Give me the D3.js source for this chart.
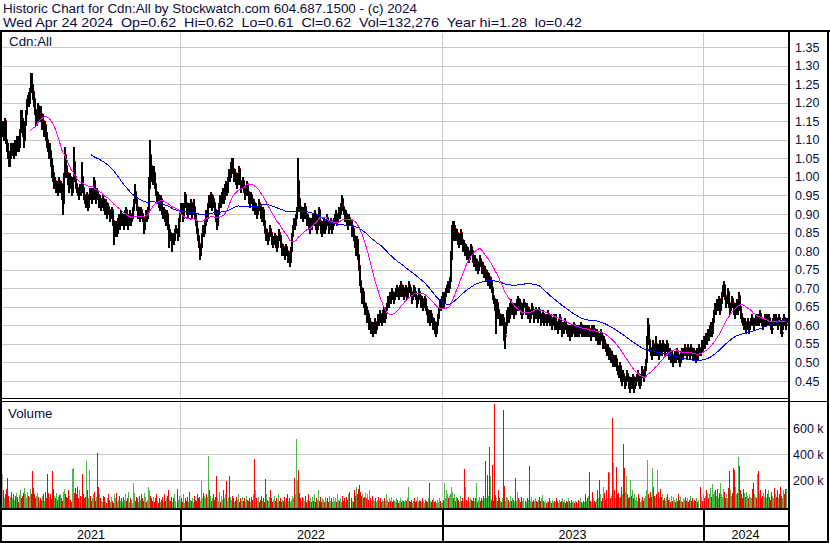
<!DOCTYPE html>
<html><head><meta charset="utf-8">
<script src="https://cdn.jsdelivr.net/npm/d3@7"></script>
<style>html,body{margin:0;padding:0;background:#fff;}svg{display:block;font-family:"Liberation Sans",Arial,sans-serif;}</style>
</head><body><svg id="c" width="830" height="543"></svg>
<script>
const title1 = "Historic Chart for Cdn:All by Stockwatch.com 604.687.1500 - (c) 2024";
const title2Parts = ["Wed Apr 24 2024", "Op=0.62", "Hi=0.62", "Lo=0.61", "Cl=0.62", "Vol=132,276", "Year hi=1.28", "lo=0.42"];
const symbolLabel = "Cdn:All";
const volumeLabel = "Volume";
const firstDay = "2021-04-28", lastDay = "2024-04-24";
const yearLabels = ["2021","2022","2023","2024"];
const priceTicks = [1.35,1.30,1.25,1.20,1.15,1.10,1.05,1.00,0.95,0.90,0.85,0.80,0.75,0.70,0.65,0.60,0.55,0.50,0.45];
const volumeTicks = [200,400,600];
const fastPeriod = 30, slowPeriod = 90;

// daily closes, cents
const closes = [
113,111,115,110,108,106,104,105,108,107,
108,106,109,107,110,109,108,112,116,115,
112,110,114,117,119,121,120,123,126,124,
123,121,118,115,117,119,116,118,117,114,
115,112,114,111,110,108,106,107,104,103,
101,98,99,97,98,96,99,97,98,96,
93,100,106,103,101,99,97,100,98,96,
99,104,100,98,97,96,95,97,96,100,
97,95,94,93,95,92,94,96,95,94,
96,99,95,94,96,95,93,94,92,93,
94,92,91,93,90,92,91,89,90,91,
88,84,86,87,85,88,89,87,90,88,
89,87,90,91,88,87,89,90,88,89,
91,93,96,94,92,90,91,89,91,90,
89,86,88,90,89,91,97,106,103,100,
99,101,98,96,94,95,93,92,94,91,
90,91,89,88,90,87,83,85,84,82,
84,83,85,86,84,88,90,92,91,89,
92,95,93,91,90,92,91,93,90,91,
92,90,88,86,84,82,79,81,84,86,
85,87,90,89,92,94,93,95,92,94,
93,91,89,87,90,92,94,93,95,96,
94,97,98,96,99,101,100,103,104,102,
100,101,99,98,100,102,99,97,98,99,
97,95,96,98,96,94,93,95,94,92,
93,91,92,90,91,93,92,90,89,91,
88,86,84,85,83,84,86,85,83,82,
83,84,82,81,83,85,84,82,80,81,
80,79,81,80,78,79,77,80,84,86,
88,87,89,91,99,94,92,90,91,89,
91,92,90,88,89,87,86,88,87,89,
88,90,87,86,89,91,88,86,85,87,
88,86,87,89,88,86,87,88,86,87,
88,89,90,88,89,91,90,92,94,92,
91,89,90,88,87,89,88,85,86,84,
82,80,83,79,76,72,70,67,69,66,
64,65,62,63,60,61,59,60,58,60,
61,59,60,62,61,63,62,61,63,64,
62,64,65,67,66,68,67,69,68,67,
68,69,70,69,68,70,71,69,70,68,
69,70,68,69,71,70,69,67,68,70,
69,68,66,67,69,68,66,67,65,66,
67,65,64,62,63,61,63,62,60,61,
59,58,60,62,64,66,65,67,68,66,
68,69,70,71,70,72,78,84,86,85,
86,84,85,83,82,84,85,83,81,82,
80,81,79,80,78,79,81,80,78,77,
78,76,77,75,76,78,77,75,76,74,
75,73,74,72,73,71,72,70,68,67,
65,62,66,64,63,61,62,61,62,58,
57,60,63,64,62,65,66,64,65,63,
65,64,66,67,65,66,64,63,65,66,
64,65,63,64,62,63,65,64,62,63,
64,63,62,64,63,61,62,63,61,62,
62,61,63,62,61,62,60,61,62,60,
61,60,59,61,62,60,58,60,59,61,
60,59,58,59,57,59,58,59,60,58,
59,58,59,58,59,60,58,59,58,59,
58,59,58,59,58,57,59,58,59,58,
57,58,56,57,56,58,57,55,56,55,
54,53,54,52,53,51,52,50,51,50,
51,49,48,47,49,46,45,47,46,44,
45,47,46,44,43,45,44,46,43,44,
45,46,47,45,44,46,48,47,46,48,
50,55,60,56,54,53,52,55,54,53,
55,53,54,52,55,54,53,55,54,53,
54,55,53,52,53,51,52,50,51,52,
51,53,52,51,50,52,53,52,53,54,
53,52,54,53,52,54,53,52,53,52,
51,53,52,54,53,55,54,56,55,57,
56,58,57,59,60,58,61,63,65,64,
66,65,67,64,66,68,70,71,68,66,
67,69,66,64,65,67,66,64,63,65,
66,64,68,65,63,62,61,60,61,59,
60,61,59,60,61,62,61,60,61,62,
61,62,61,63,62,61,60,61,62,61,
62,61,62,61,60,59,61,62,61,62,
61,60,62,61,59,58,61,62,61,60,
62];

// daily high minus close, cents
const upWicks = [
2,3,1,5,2,3,2,2,1,2, 1,2,1,3,1,2,2,1,2,3, 4,2,1,1,2,1,3,1,2,4, 2,2,3,3,1,1,3,1,2,3,
2,3,1,3,2,2,2,2,3,2, 2,3,1,2,1,2,1,2,1,2, 3,1,2,3,2,2,2,1,2,2, 1,4,4,2,1,1,2,1,1,4,
3,2,1,1,1,3,1,1,2,1, 1,1,4,1,1,1,2,1,2,1, 1,2,1,1,3,1,1,2,1,1, 3,4,1,1,2,1,1,2,1,2,
1,2,1,1,3,1,1,1,2,1, 1,1,2,2,2,2,1,2,1,1, 1,3,1,1,1,1,3,4,3,3, 2,2,3,2,2,1,2,1,1,3,
1,1,2,1,1,3,4,1,1,2, 1,1,1,1,2,1,1,1,2,2, 1,1,2,2,1,1,2,1,3,1, 2,2,2,2,2,2,3,1,1,1,
1,1,1,2,1,1,2,1,3,1, 1,2,2,2,1,1,1,2,1,1, 2,1,1,2,1,1,2,1,1,3, 2,1,2,1,1,1,3,2,1,1,
2,2,1,1,2,2,1,1,1,2, 1,2,1,2,1,1,1,2,1,1, 3,2,2,1,2,1,1,1,2,1, 1,1,2,1,1,1,1,2,2,1,
1,1,1,1,2,1,2,1,1,1, 1,1,1,1,6,5,2,2,1,2, 1,1,2,2,1,2,1,1,1,1, 1,1,3,1,1,1,3,2,1,1,
1,2,1,1,1,2,1,1,2,1, 1,1,1,2,1,1,1,1,1,2, 1,2,1,2,1,1,1,3,1,2, 2,2,1,4,3,4,2,3,1,3,
2,1,3,1,3,1,2,1,2,1, 1,2,1,1,1,1,1,2,1,1, 2,1,1,1,1,1,1,1,1,1, 1,1,1,1,1,1,1,2,1,2,
1,1,2,1,1,1,1,2,1,1, 1,1,2,1,1,1,2,1,2,1, 1,2,1,2,1,2,1,1,2,1, 2,1,1,1,1,1,1,1,1,2,
1,1,1,1,1,1,2,3,2,3, 1,2,1,2,1,1,1,2,2,1, 2,1,2,1,2,1,1,1,2,1, 1,2,1,2,1,1,1,2,1,2,
1,2,1,2,1,2,1,2,2,1, 2,3,1,2,1,2,1,1,1,4, 3,1,1,1,2,1,1,2,1,2, 1,1,1,1,2,1,2,1,1,1,
2,1,2,1,2,1,1,1,2,1, 1,1,1,1,1,2,1,1,2,1, 1,1,1,1,1,1,2,1,1,2, 2,1,1,1,1,2,2,1,1,1,
1,1,1,1,2,1,1,1,1,2, 1,1,1,1,1,1,2,1,1,1, 1,1,1,1,1,1,1,1,1,1, 1,1,2,1,1,1,1,2,1,1,
1,1,1,2,1,2,1,2,1,1, 1,2,1,1,1,3,1,1,1,2, 1,1,1,2,1,1,1,1,3,1, 1,1,1,2,1,1,1,1,1,1,
1,2,2,4,2,1,2,1,1,1, 2,2,1,2,1,1,2,1,1,1, 1,1,2,1,1,2,1,2,1,1, 1,1,1,1,1,1,1,1,1,1,
1,1,1,1,1,1,1,1,1,1, 1,1,1,1,1,1,1,1,1,1, 1,1,1,1,1,2,1,1,1,2, 1,2,1,3,1,1,1,1,3,2,
1,1,3,2,1,1,1,2,1,1, 1,2,1,3,2,1,1,1,1,2, 1,1,2,1,1,1,1,1,1,1, 1,1,1,1,1,1,1,1,1,1,
1,1,1,1,1,2,1,1,1,1, 1,1,1,1,2,1,1,1,1,2, 0];

// daily close minus low, cents
const downWicks = [
2,1,4,1,1,1,1,2,3,1, 2,1,3,1,3,1,1,4,4,2, 1,2,4,3,2,2,1,3,3,1, 2,2,1,1,3,2,1,2,2,1,
2,1,3,1,2,1,1,2,1,3, 2,1,2,1,2,1,3,1,2,2, 3,7,6,1,1,1,1,3,1,1, 3,5,1,1,1,1,1,2,1,4,
1,1,1,1,2,1,2,2,1,1, 2,3,1,1,2,1,1,1,1,1, 1,1,1,2,1,2,1,1,1,1, 1,2,2,1,1,3,1,1,3,1,
1,1,3,1,1,1,2,1,1,1, 2,2,3,1,1,1,1,1,2,1, 1,1,2,2,1,2,6,9,1,1, 1,2,1,1,1,1,1,1,2,1,
1,1,1,1,2,1,2,2,1,2, 2,1,2,1,1,4,2,2,1,1, 3,3,1,1,1,2,1,2,1,1, 1,1,1,1,1,1,1,2,3,2,
1,2,3,1,3,2,1,2,1,2, 1,1,1,1,3,2,2,1,2,1, 1,3,1,1,3,2,1,3,1,1, 1,1,1,1,2,2,1,1,1,1,
1,1,1,2,1,1,1,2,1,1, 1,1,1,1,1,2,1,1,1,2, 1,1,1,1,1,1,2,1,1,1, 1,1,1,1,2,2,1,1,1,1,
1,1,2,1,1,1,1,3,4,2, 2,1,2,2,8,1,1,1,1,1, 2,1,1,1,1,1,1,2,1,2, 1,2,1,1,3,2,1,1,1,2,
1,1,1,2,1,1,1,1,1,1, 1,1,1,1,1,2,1,2,2,1, 1,1,1,1,1,2,1,1,1,1, 1,1,3,1,1,1,1,1,2,1,
1,2,1,1,1,2,1,1,1,2, 2,1,1,2,1,2,1,1,2,1, 1,2,1,2,1,2,1,2,1,1, 1,1,1,1,1,2,1,1,1,1,
1,1,1,1,2,1,1,1,1,2, 1,1,1,1,2,1,1,1,1,1, 1,1,1,1,1,1,2,1,1,1, 1,1,2,2,2,2,1,2,1,1,
2,1,1,1,1,2,6,6,2,2, 2,1,1,1,1,2,1,1,1,1, 1,1,1,1,1,1,2,1,1,1, 1,1,1,1,1,2,1,1,1,1,
1,1,1,1,1,1,1,1,1,1, 1,4,4,1,1,1,1,1,2,2, 3,2,3,1,1,3,1,1,1,1, 2,1,2,1,1,1,1,1,2,1,
1,1,1,1,1,1,2,1,1,1, 1,1,1,2,1,1,1,1,1,1, 1,1,2,1,1,1,1,1,1,1, 1,1,1,2,1,1,1,2,1,2,
1,1,1,1,1,2,1,1,1,1, 1,1,1,1,1,1,1,1,1,1, 1,1,1,1,1,1,2,1,1,1, 1,1,1,1,1,2,1,1,1,1,
1,1,1,1,1,1,1,1,1,1, 1,1,1,1,2,1,1,2,1,1, 1,2,1,1,1,2,1,2,1,1, 1,1,1,1,1,2,2,1,1,2,
2,5,5,1,1,1,1,3,2,1, 2,1,1,1,3,1,1,2,1,1, 1,1,1,1,1,1,1,1,1,1, 1,2,1,1,1,2,1,1,1,1,
1,1,2,1,1,2,1,1,1,1, 1,2,1,2,1,2,1,2,1,2, 1,2,1,2,1,1,3,2,2,1, 2,1,2,1,2,2,2,1,1,1,
1,2,1,1,1,2,1,1,1,2, 1,1,4,1,1,1,1,1,1,1, 1,1,1,1,1,1,1,1,1,1, 1,1,1,1,1,1,1,1,1,1,
1,1,1,1,1,1,1,1,1,1, 1,1,1,1,1,1,2,1,1,1, 1];

// daily volume, thousands of shares
const volumes = [
250,120,60,90,130,220,80,40,70,110, 60,90,45,80,100,70,30,85,120,60,
75,100,140,90,60,110,80,70,130,95, 270,140,90,60,80,100,70,40,60,50,
75,90,40,110,60,250,100,70,90,55, 270,130,80,60,100,45,70,85,90,60,
40,110,130,90,70,60,120,80,50,30, 285,290,100,140,90,150,60,120,80,70,
250,90,60,70,345,120,60,280,80,40, 60,90,110,40,70,410,150,90,60,40,
30,80,70,40,20,60,90,50,30,70, 40,20,90,60,100,30,50,80,40,60,
30,70,50,90,40,60,110,30,60,50, 20,180,100,40,70,60,30,80,50,90,
60,40,100,70,30,50,150,120,80,60, 40,70,30,60,90,40,20,60,30,50,
70,30,90,40,60,80,120,50,40,70, 30,60,90,40,130,50,80,40,60,30,
90,20,60,40,70,30,110,50,40,60, 30,80,50,40,90,60,70,40,190,60,
100,80,60,90,70,385,120,80,40,60, 90,50,70,230,60,40,110,30,80,50,
120,60,90,190,40,60,230,70,50,80, 60,30,40,70,50,90,30,60,40,70,
40,60,30,80,50,40,60,30,70,50, 90,360,120,60,40,70,30,50,80,40,
60,30,205,90,50,40,70,120,60,30, 50,80,40,60,30,90,40,60,30,50,
40,70,30,60,90,40,60,30,50,80, 60,215,90,520,200,280,100,60,40,70,
60,40,80,30,50,90,40,60,30,70, 40,90,30,60,50,120,40,70,30,60,
50,30,70,40,60,30,80,40,60,30, 70,40,60,30,90,50,40,60,30,80,
40,60,30,70,50,90,110,60,40,30, 120,80,150,90,130,160,110,80,90,60,
70,100,60,90,50,120,60,40,80,50, 40,60,30,50,70,40,60,30,50,40,
60,40,90,50,30,60,40,70,30,50, 40,30,60,50,20,40,60,30,50,40,
30,50,40,60,145,40,30,50,20,40, 60,30,40,70,30,50,40,30,60,40,
20,50,40,30,60,180,40,30,50,60, 30,40,20,50,30,60,40,20,30,50,
180,60,120,90,60,80,90,150,110,60, 90,40,70,60,50,30,80,40,60,40,
285,150,50,40,70,30,60,50,40,60, 40,60,180,30,50,70,40,60,50,80,
60,345,60,240,80,455,230,50,315,40, 790,85,60,40,120,60,40,30,60,745,
155,40,70,60,50,30,80,40,60,50, 30,215,40,110,60,50,30,70,40,60,
40,30,60,50,310,40,70,30,50,40, 60,40,30,50,70,40,60,85,40,30,
50,20,40,30,60,40,20,50,30,40, 30,60,40,20,50,30,40,60,30,50,
20,40,30,60,40,20,50,30,40,20, 40,30,20,50,40,60,30,20,40,30,
95,40,60,80,260,40,30,110,60,40, 30,50,120,60,200,90,40,60,150,100,
50,120,60,260,255,60,80,680,330,120, 60,300,90,100,60,70,150,90,480,290,
110,230,90,60,70,200,80,120,60,90, 50,70,40,90,60,30,50,70,40,60,
80,120,355,90,60,110,70,290,150,80, 60,90,280,110,60,130,70,90,50,60,
40,70,90,50,60,30,80,40,70,50, 30,60,40,90,50,70,40,30,60,50,
70,40,60,30,50,80,40,60,30,50, 40,60,30,50,150,70,40,90,60,80,
120,100,60,90,140,70,170,90,110,120, 80,130,60,100,180,90,70,130,110,60,
90,60,140,270,120,80,100,290,280,150, 90,100,375,310,120,90,60,130,100,70,
110,80,60,90,70,60,130,180,90,70, 60,250,270,90,120,60,80,100,70,130,
60,90,120,70,50,110,80,60,140,90, 70,120,60,90,150,80,60,120,90,130,
132];

const n = closes.length;
if (upWicks.length!==n || downWicks.length!==n || volumes.length!==n) {
  console.error("length mismatch", n, upWicks.length, downWicks.length, volumes.length);
}

const parse = d3.utcParse("%Y-%m-%d");
const days = d3.utcDay.range(parse(firstDay), d3.utcDay.offset(parse(lastDay), 1))
  .filter(d => d.getUTCDay() % 6 !== 0);
if (days.length !== n) console.error("days", days.length, n);

const bars = closes.map((c, i) => ({
  i, date: days[i],
  close: c / 100,
  high: (c + upWicks[i]) / 100,
  low: (c - downWicks[i]) / 100,
  vol: volumes[i],
  dir: i === 0 ? 0 : Math.sign(c - closes[i - 1])
}));

const svg = d3.select("#c");
const L = 2, R = 788, priceTop = 33, priceBot = 398, volTop = 402, volBot = 508;
const navy = "#0c0c40";

const x = d3.scaleLinear().domain([0, n - 1]).range([1.5, 786]);
const y = d3.scaleLinear().domain([0.45, 1.35]).range([381, 47]);
const yv = d3.scaleLinear().domain([0, 800]).range([506, 402.4]);

svg.append("rect").attr("width", 830).attr("height", 543).attr("fill", "#fff");

// header
svg.append("text").attr("x", 3).attr("y", 13).attr("font-size", "13.33px").attr("fill", navy)
  .attr("textLength", 414).attr("lengthAdjust", "spacingAndGlyphs").text(title1);
svg.append("text").attr("x", 3).attr("y", 27).attr("font-size", "13.33px").attr("fill", navy)
  .attr("textLength", 579).attr("lengthAdjust", "spacingAndGlyphs")
  .text(title2Parts.join("\u00a0\u00a0"));

// grid
const grid = svg.append("g").attr("shape-rendering", "crispEdges").attr("stroke", "#c8c8c8").attr("stroke-width", 1);
priceTicks.forEach(t => grid.append("line").attr("x1", L).attr("x2", R)
  .attr("y1", Math.round(y(t)) + 0.5).attr("y2", Math.round(y(t)) + 0.5));
volumeTicks.forEach(t => grid.append("line").attr("x1", L).attr("x2", R)
  .attr("y1", Math.round(yv(t)) + 0.5).attr("y2", Math.round(yv(t)) + 0.5));

// year boundaries
const yearBounds = [];
for (let i = 1; i < n; i++) if (days[i].getUTCFullYear() !== days[i - 1].getUTCFullYear()) yearBounds.push(i);
const bx = yearBounds.map(i => Math.round(x(i - 0.5)));
bx.forEach(X => grid.append("line").attr("x1", X + 0.5).attr("x2", X + 0.5).attr("y1", priceTop).attr("y2", volBot));

// price bars (2px wide black range, red close tick)
svg.append("clipPath").attr("id", "pc").append("rect").attr("x", L).attr("y", priceTop).attr("width", R - L).attr("height", priceBot - priceTop);
const pg = svg.append("g").attr("clip-path", "url(#pc)").attr("shape-rendering", "crispEdges");
bars.forEach(b => {
  const X = Math.round(x(b.i));
  const y1 = Math.round(y(b.high)), y2 = Math.round(y(b.low));
  pg.append("rect").attr("x", X).attr("y", y1).attr("width", 2).attr("height", y2 - y1 + 1).attr("fill", "#000");
  pg.append("rect").attr("x", X + 2).attr("y", Math.round(y(b.close)) - 1).attr("width", 1).attr("height", 2).attr("fill", "#ff0000");
});

// moving averages
function ma(p) {
  return bars.map((b, i) => i < p - 1 ? null : { i, v: d3.mean(bars.slice(i - p + 1, i + 1), d => d.close) }).filter(d => d);
}
const line = d3.line().x(d => x(d.i)).y(d => y(d.v));
pg.append("path").datum(ma(slowPeriod)).attr("d", line).attr("fill", "none").attr("stroke", "#0000ff").attr("stroke-width", 1);
pg.append("path").datum(ma(fastPeriod)).attr("d", line).attr("fill", "none").attr("stroke", "#ff00ff").attr("stroke-width", 1);

// volume bars
const vg = svg.append("g").attr("shape-rendering", "crispEdges");
const vcol = d => d.dir > 0 ? "#4db848" : d.dir < 0 ? "#ff0000" : "#a8a8a8";
vg.selectAll("rect").data(bars).join("rect")
  .attr("x", d => Math.round(x(d.i))).attr("width", 1)
  .attr("y", d => Math.round(yv(d.vol)))
  .attr("height", d => volBot - Math.round(yv(d.vol)))
  .attr("fill", vcol);

// labels inside panels
svg.append("text").attr("x", 9).attr("y", 46).attr("font-size", "13.33px").attr("fill", navy).text(symbolLabel);
svg.append("text").attr("x", 8).attr("y", 418).attr("font-size", "13.33px").attr("fill", navy).text(volumeLabel);

// right axes
const pa = svg.append("g").attr("transform", "translate(795,0)")
  .call(d3.axisRight(y).tickValues(priceTicks).tickFormat(d3.format(".2f")).tickSize(0).tickPadding(0));
pa.select(".domain").remove();
pa.selectAll("text").attr("font-size", "12.5px").attr("font-family", "Liberation Sans, Arial, sans-serif").attr("fill", navy);
const va = svg.append("g").attr("transform", "translate(793,0)")
  .call(d3.axisRight(yv).tickValues(volumeTicks).tickFormat(d => d + " k").tickSize(0).tickPadding(0));
va.select(".domain").remove();
va.selectAll("text").attr("font-size", "12.5px").attr("font-family", "Liberation Sans, Arial, sans-serif").attr("fill", navy);

// frame
const fr = svg.append("g").attr("fill", "#000").attr("shape-rendering", "crispEdges");
fr.append("rect").attr("x", 0).attr("y", 30).attr("width", 830).attr("height", 2);
fr.append("rect").attr("x", 0).attr("y", 30).attr("width", 2).attr("height", 513);
fr.append("rect").attr("x", 827).attr("y", 30).attr("width", 2).attr("height", 513);
fr.append("rect").attr("x", 788).attr("y", 30).attr("width", 2).attr("height", 513);
fr.append("rect").attr("x", 0).attr("y", 398).attr("width", 788).attr("height", 1);
fr.append("rect").attr("x", 0).attr("y", 401).attr("width", 829).attr("height", 1);
fr.append("rect").attr("x", 0).attr("y", 508).attr("width", 788).attr("height", 2);
fr.append("rect").attr("x", 0).attr("y", 525).attr("width", 788).attr("height", 2);
fr.append("rect").attr("x", 0).attr("y", 541).attr("width", 829).attr("height", 2);
bx.forEach(X => fr.append("rect").attr("x", X).attr("y", 508).attr("width", 2).attr("height", 35));

// year labels centred in each year segment
const edges = [L, ...bx, R];
yearLabels.forEach((t, k) => {
  svg.append("text").attr("x", (edges[k] + edges[k + 1]) / 2).attr("y", 539)
    .attr("text-anchor", "middle").attr("font-size", "12.5px").attr("fill", "#000").text(t);
});
</script>
</body></html>
